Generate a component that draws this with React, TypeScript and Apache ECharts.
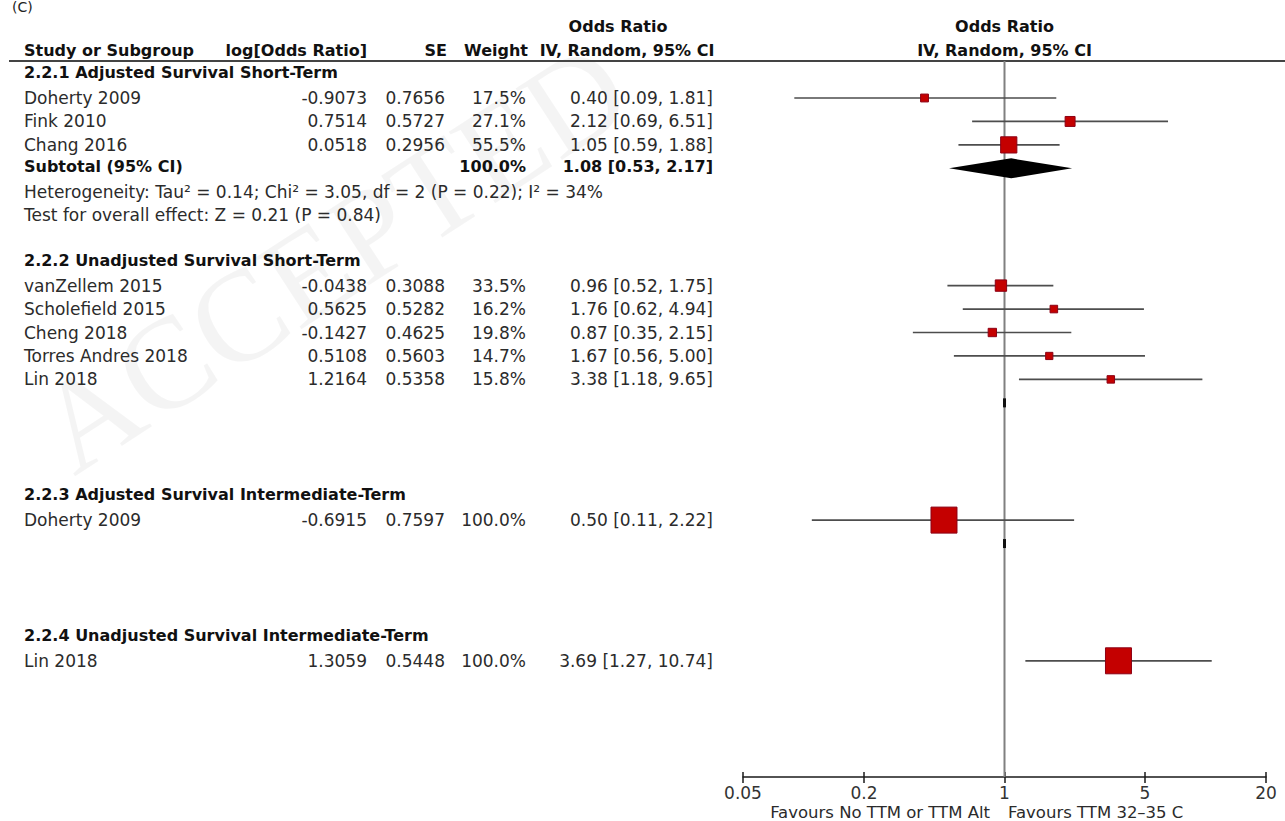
import React, { useEffect, useRef } from "react";
import * as echarts from "echarts";

// ---------- data ----------
const studyNames = [
  "Doherty 2009", "Fink 2010", "Chang 2016",
  "vanZellem 2015", "Scholefield 2015", "Cheng 2018", "Torres Andres 2018", "Lin 2018",
  "Doherty 2009",
  "Lin 2018",
];
const studyLogOR = ["-0.9073", "0.7514", "0.0518", "-0.0438", "0.5625", "-0.1427", "0.5108", "1.2164", "-0.6915", "1.3059"];
const studySE = ["0.7656", "0.5727", "0.2956", "0.3088", "0.5282", "0.4625", "0.5603", "0.5358", "0.7597", "0.5448"];
const studyWeight = [17.5, 27.1, 55.5, 33.5, 16.2, 19.8, 14.7, 15.8, 100.0, 100.0];
const studyOR = [0.40, 2.12, 1.05, 0.96, 1.76, 0.87, 1.67, 3.38, 0.50, 3.69];
const studyLo = [0.09, 0.69, 0.59, 0.52, 0.62, 0.35, 0.56, 1.18, 0.11, 1.27];
const studyHi = [1.81, 6.51, 1.88, 1.75, 4.94, 2.15, 5.00, 9.65, 2.22, 10.74];
const studyRow = [0, 1, 2, 8, 9, 10, 11, 12, 18, 24];

const groupTitles = [
  "2.2.1 Adjusted Survival Short-Term",
  "2.2.2 Unadjusted Survival Short-Term",
  "2.2.3 Adjusted Survival Intermediate-Term",
  "2.2.4 Unadjusted Survival Intermediate-Term",
];
const groupRows = [-1, 7, 17, 23];

const subtotalLabel = "Subtotal (95% CI)";
const subtotalWeight = 100.0;
const subtotalOR = 1.08;
const subtotalLo = 0.53;
const subtotalHi = 2.17;
const subtotalRow = 3;

const noteLines = [
  "Heterogeneity: Tau² = 0.14; Chi² = 3.05, df = 2 (P = 0.22); I² = 34%",
  "Test for overall effect: Z = 0.21 (P = 0.84)",
];
const noteRows = [4, 5];
const emptySubtotalRows = [13, 19];

const tableHeaders = ["Study or Subgroup", "log[Odds Ratio]", "SE", "Weight", "IV, Random, 95% CI"];
const plotHeaderLines = ["Odds Ratio", "IV, Random, 95% CI"];
const tickValues = [0.05, 0.2, 1, 5, 20];
const tickLabels = ["0.05", "0.2", "1", "5", "20"];
const favoursLeft = "Favours No TTM or TTM Alt";
const favoursRight = "Favours TTM 32–35 C";
const panelLabel = "(C)";
const watermark = "ACCEPTED";

// ---------- layout ----------
const W = 1285;
const H = 821;
const ROW_H = 23.45;
const ROW0 = 98;
const PLOT_TOP = 61;
const AXIS_Y = 777;
const PLOT_LEFT = 743;
const PLOT_RIGHT = 1266;
const rowOf = (py: number) => (py - ROW0) / ROW_H;

const COL = { name: 24, log: 367, se: 445, weight: 526, ci: 713, oddsHdr: 618, ivHdr: 627, plotHdr: 1004.5 };
const FONT = '"DejaVu Sans", "Noto Sans", sans-serif';
const REG = 17;
const BOLD = 16;

const lg = (v: number) => Math.log10(v);
const fmt2 = (v: number) => v.toFixed(2);
const ciText = (o: number, l: number, h: number) => `${fmt2(o)} [${fmt2(l)}, ${fmt2(h)}]`;

type Cell = { x: number; row: number; text: string; align: "left" | "right" | "center"; bold: boolean; size: number; dy?: number };

function buildCells(): Cell[] {
  const cells: Cell[] = [];
  const hdr1 = rowOf(26);
  const hdr2 = rowOf(50);
  cells.push({ x: COL.oddsHdr, row: hdr1, text: plotHeaderLines[0], align: "center", bold: true, size: BOLD });
  cells.push({ x: COL.plotHdr, row: hdr1, text: plotHeaderLines[0], align: "center", bold: true, size: BOLD });
  cells.push({ x: COL.name, row: hdr2, text: tableHeaders[0], align: "left", bold: true, size: BOLD });
  cells.push({ x: COL.log, row: hdr2, text: tableHeaders[1], align: "right", bold: true, size: BOLD });
  cells.push({ x: COL.se + 2, row: hdr2, text: tableHeaders[2], align: "right", bold: true, size: BOLD });
  cells.push({ x: COL.weight + 2, row: hdr2, text: tableHeaders[3], align: "right", bold: true, size: BOLD });
  cells.push({ x: COL.ivHdr, row: hdr2, text: tableHeaders[4], align: "center", bold: true, size: BOLD });
  cells.push({ x: COL.plotHdr, row: hdr2, text: plotHeaderLines[1], align: "center", bold: true, size: BOLD });

  groupTitles.forEach((t, i) => {
    cells.push({ x: COL.name, row: groupRows[i], text: t, align: "left", bold: true, size: BOLD, dy: -2 });
  });
  studyNames.forEach((n, i) => {
    const r = studyRow[i];
    cells.push({ x: COL.name, row: r, text: n, align: "left", bold: false, size: REG });
    cells.push({ x: COL.log, row: r, text: studyLogOR[i], align: "right", bold: false, size: REG });
    cells.push({ x: COL.se, row: r, text: studySE[i], align: "right", bold: false, size: REG });
    cells.push({ x: COL.weight, row: r, text: studyWeight[i].toFixed(1) + "%", align: "right", bold: false, size: REG });
    cells.push({ x: COL.ci, row: r, text: ciText(studyOR[i], studyLo[i], studyHi[i]), align: "right", bold: false, size: REG });
  });
  cells.push({ x: COL.name, row: subtotalRow, text: subtotalLabel, align: "left", bold: true, size: BOLD, dy: -2 });
  cells.push({ x: COL.weight, row: subtotalRow, text: subtotalWeight.toFixed(1) + "%", align: "right", bold: true, size: BOLD, dy: -2 });
  cells.push({ x: COL.ci, row: subtotalRow, text: ciText(subtotalOR, subtotalLo, subtotalHi), align: "right", bold: true, size: BOLD, dy: -2 });
  noteLines.forEach((t, i) => {
    cells.push({ x: COL.name, row: noteRows[i], text: t, align: "left", bold: false, size: REG });
  });
  const footRow = rowOf(812);
  cells.push({ x: 990, row: footRow, text: favoursLeft, align: "right", bold: false, size: 16.5 });
  cells.push({ x: 1008, row: footRow, text: favoursRight, align: "left", bold: false, size: 16.5 });
  return cells;
}

export default function App() {
  const ref = useRef<HTMLDivElement>(null);

  useEffect(() => {
    if (!ref.current) return;
    const chart = echarts.init(ref.current, null, { renderer: "svg", width: W, height: H });
    const cells = buildCells();
    const LMIN = lg(tickValues[0]);
    const LMAX = lg(tickValues[tickValues.length - 1]);
    const tickLogs = tickValues.map(lg);
    const y0min = rowOf(PLOT_TOP);
    const y0max = rowOf(AXIS_Y);

    const option: any = {
      animation: false,
      backgroundColor: "#ffffff",
      grid: [
        { left: PLOT_LEFT, top: PLOT_TOP, width: PLOT_RIGHT - PLOT_LEFT, height: AXIS_Y - PLOT_TOP, containLabel: false },
        { left: 0, top: 0, width: W, height: H, containLabel: false },
      ],
      xAxis: [
        {
          type: "value", gridIndex: 0, min: LMIN, max: LMAX, position: "bottom",
          axisLine: { show: true, onZero: false, lineStyle: { color: "#1a1a1a", width: 1.5 } },
          axisTick: { show: true, customValues: tickLogs, length: 6, lineStyle: { color: "#1a1a1a", width: 1.5 } },
          axisLabel: {
            show: true, customValues: tickLogs, margin: 7, fontSize: 17, color: "#333", fontFamily: FONT,
            showMinLabel: true, showMaxLabel: true,
            formatter: (v: number) => {
              const i = tickLogs.findIndex((t) => Math.abs(t - v) < 1e-6);
              return i >= 0 ? tickLabels[i] : "";
            },
          },
          splitLine: { show: false },
        },
        {
          type: "value", gridIndex: 0, min: LMIN, max: LMAX, position: "bottom",
          axisLine: { show: false, onZero: false },
          axisTick: { show: true, inside: true, customValues: tickLogs, length: 5, lineStyle: { color: "#1a1a1a", width: 1.5 } },
          axisLabel: { show: false },
          splitLine: { show: false },
        },
        { type: "value", gridIndex: 1, min: 0, max: W, show: false },
      ],
      yAxis: [
        { type: "value", gridIndex: 0, inverse: true, min: y0min, max: y0max, show: false },
        { type: "value", gridIndex: 1, inverse: true, min: rowOf(0), max: rowOf(H), show: false },
      ],
      graphic: [
        {
          type: "text", x: 50, y: 440, rotation: (33 * Math.PI) / 180, silent: true, z: 0,
          style: { text: watermark, fill: "rgba(0,0,0,0.045)", fontSize: 130, fontFamily: '"Liberation Serif", serif', align: "left", verticalAlign: "middle" },
        },
        {
          type: "text", x: 12, y: 0, silent: true,
          style: { text: panelLabel, fill: "#222", fontSize: 14, fontFamily: FONT, align: "left", verticalAlign: "top" },
        },
        {
          type: "line", silent: true,
          shape: { x1: 9, y1: PLOT_TOP, x2: W, y2: PLOT_TOP },
          style: { stroke: "#444", lineWidth: 2 },
        },
      ],
      series: [
        {
          type: "line", xAxisIndex: 0, yAxisIndex: 0, symbol: "none", silent: true, z: 1,
          data: [[0, y0min], [0, y0max]],
          lineStyle: { color: "#808080", width: 2 },
        },
        {
          type: "custom", xAxisIndex: 0, yAxisIndex: 0, silent: true, z: 3, clip: false,
          data: studyOR.map((o, i) => [lg(o), studyRow[i], lg(studyLo[i]), lg(studyHi[i]), studyWeight[i]]),
          renderItem: (_p: any, api: any) => {
            const c = api.coord([api.value(0), api.value(1)]);
            const a = api.coord([api.value(2), api.value(1)]);
            const b = api.coord([api.value(3), api.value(1)]);
            const s = 4 + 0.22 * api.value(4);
            return {
              type: "group",
              children: [
                { type: "line", shape: { x1: a[0], y1: c[1], x2: b[0], y2: c[1] }, style: { stroke: "#4d4d4d", lineWidth: 1.7 } },
                { type: "rect", shape: { x: c[0] - s / 2, y: c[1] - s / 2, width: s, height: s }, style: { fill: "#c40000", stroke: "#8c0014", lineWidth: 1 } },
              ],
            };
          },
        },
        {
          type: "custom", xAxisIndex: 0, yAxisIndex: 0, silent: true, z: 3, clip: false,
          data: [[lg(subtotalOR), subtotalRow, lg(subtotalLo), lg(subtotalHi)]],
          renderItem: (_p: any, api: any) => {
            const c = api.coord([api.value(0), api.value(1)]);
            const a = api.coord([api.value(2), api.value(1)]);
            const b = api.coord([api.value(3), api.value(1)]);
            const h = 10;
            return {
              type: "polygon",
              shape: { points: [[a[0], c[1]], [c[0], c[1] - h], [b[0], c[1]], [c[0], c[1] + h]] },
              style: { fill: "#000" },
            };
          },
        },
        {
          type: "custom", xAxisIndex: 0, yAxisIndex: 0, silent: true, z: 3, clip: false,
          data: emptySubtotalRows.map((r) => [0, r]),
          renderItem: (_p: any, api: any) => {
            const c = api.coord([api.value(0), api.value(1)]);
            return { type: "rect", shape: { x: c[0] - 1.5, y: c[1] - 4.5, width: 3, height: 9 }, style: { fill: "#111" } };
          },
        },
        {
          type: "custom", xAxisIndex: 2, yAxisIndex: 1, silent: true, z: 4, clip: false,
          data: cells.map((c) => [c.x, c.row]),
          renderItem: (p: any, api: any) => {
            const cell = cells[p.dataIndex];
            const pt = api.coord([api.value(0), api.value(1)]);
            return {
              type: "text",
              x: pt[0],
              y: pt[1] + (cell.dy || 0),
              style: {
                text: cell.text,
                fill: cell.bold ? "#111" : "#2b2b2b",
                fontSize: cell.size,
                fontFamily: FONT,
                fontWeight: cell.bold ? "bold" : "normal",
                align: cell.align,
                verticalAlign: "middle",
              },
            };
          },
        },
      ],
    };
    chart.setOption(option);
    return () => chart.dispose();
  }, []);

  return (
    <div
      ref={ref}
      style={{ position: "absolute", left: 0, top: 0, width: W, height: H, background: "#fff" }}
    />
  );
}
